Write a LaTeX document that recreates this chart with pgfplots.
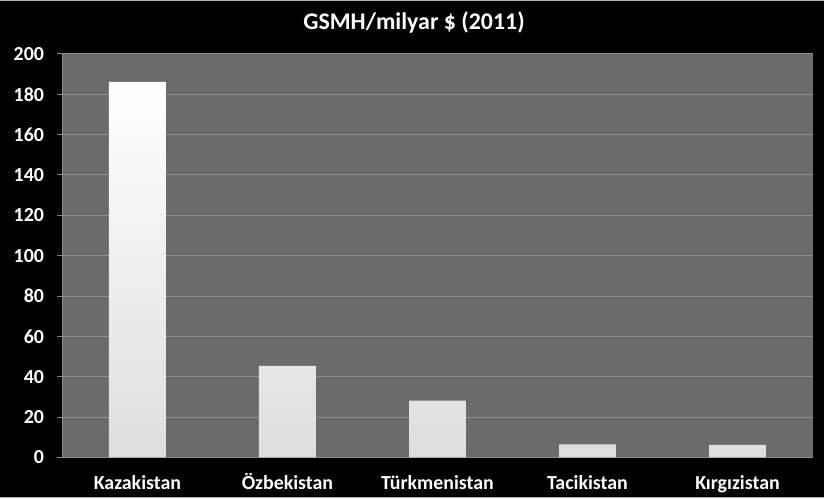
\documentclass[border=0pt]{standalone}
\usepackage{pgfplots}
\pgfplotsset{compat=1.18}
\usepackage{fontspec}
\setmainfont{Carlito}
\definecolor{plotbg}{HTML}{6B6B6B}
\definecolor{gridc}{HTML}{8E8E8E}
\begin{document}
\begin{tikzpicture}[x=1bp,y=1bp]
\fill[black] (0,0) rectangle (824,499);
\draw[gray!60, line width=1bp] (0,0.5) -- (824,0.5);
\draw[gray!60, line width=1bp] (0,498.5) -- (824,498.5);
\node[text=white, font=\bfseries\fontsize{24}{28}\selectfont] at (414,476) {GSMH/milyar \$ (2011)};
\begin{axis}[
  at={(62bp,41bp)}, anchor=south west,
  scale only axis, width=751bp, height=404bp,
  xmin=-0.5, xmax=4.5, ymin=0, ymax=200,
  ytick={0,20,...,200},
  xtick={0,1,2,3,4},
  xticklabels={Kazakistan,Özbekistan,Türkmenistan,Tacikistan,Kırgızistan},
  extra x ticks={0.5,1.5,2.5,3.5},
  extra x tick labels={},
  extra x tick style={major tick length=5bp, tick style={gridc}, grid=none},
  x tick style={draw=none},
  y tick style={gridc, line width=1bp},
  major tick length=5bp,
  tick align=outside,
  ymajorgrids, major grid style={gridc, line width=1bp},
  axis background/.style={fill=plotbg},
  axis x line*=bottom, axis y line*=left,
  axis line style={gridc, line width=1bp},
  /pgf/number format/assume math mode=true,
  ticklabel style={text=white, font=\bfseries\fontsize{20}{24}\selectfont},
  xticklabel style={anchor=base, yshift=-27bp},
  yticklabel style={xshift=-10bp},
]
\addplot[ybar, bar width=57bp, draw=none, top color=white, middle color=white!97!black, bottom color=white!87!black]
  coordinates {(0,186.2) (1,45.4) (2,28.1) (3,6.5) (4,6.2)};
\end{axis}
\end{tikzpicture}
\end{document}
